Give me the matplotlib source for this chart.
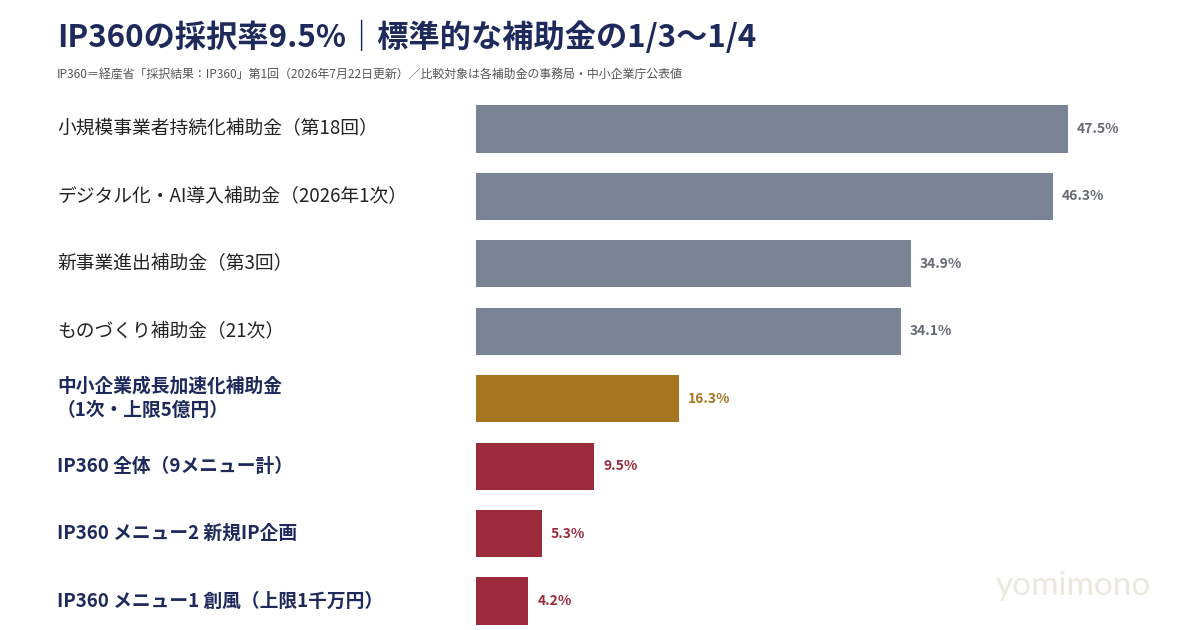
import matplotlib
matplotlib.use("Agg")
import matplotlib.pyplot as plt
import matplotlib.transforms as mtransforms

plt.rcParams['font.family'] = ['Noto Sans CJK JP', 'DejaVu Sans']

categories = [
    "小規模事業者持続化補助金（第18回）",
    "デジタル化・AI導入補助金（2026年1次）",
    "新事業進出補助金（第3回）",
    "ものづくり補助金（21次）",
    "中小企業成長加速化補助金\n（1次・上限5億円）",
    "IP360 全体（9メニュー計）",
    "IP360 メニュー2 新規IP企画",
    "IP360 メニュー1 創風（上限1千万円）",
]
values = [47.5, 46.3, 34.9, 34.1, 16.3, 9.5, 5.3, 4.2]
groups = ["other", "other", "other", "other", "gold", "ip", "ip", "ip"]
value_labels = ["47.5%", "46.3%", "34.9%", "34.1%", "16.3%", "9.5%", "5.3%", "4.2%"]

title = "IP360の採択率9.5%｜標準的な補助金の1/3〜1/4"
subtitle = "IP360＝経産省「採択結果：IP360」第1回（2026年7月22日更新）／比較対象は各補助金の事務局・中小企業庁公表値"

bar_colors = {"other": "#7b8497", "gold": "#a7741f", "ip": "#9b2a3b"}
val_colors = {"other": "#666a72", "gold": "#a7741f", "ip": "#9b2a3b"}
navy = "#1f2a5c"

fig = plt.figure(figsize=(12, 6.3), dpi=100)
fig.patch.set_facecolor("white")
ax = fig.add_axes([476/1200, 0, 623/1200, (630-95.3)/630])

ys = list(range(len(values)))
ax.barh(ys, values, height=0.70, color=[bar_colors[g] for g in groups])
ax.set_xlim(0, 50)
ax.set_ylim(7.43, -0.5)
ax.axis("off")

for y, v, g, lab in zip(ys, values, groups, value_labels):
    ax.annotate(lab, (v, y), xytext=(6.5, 0), textcoords="offset points",
                va="center", ha="left", fontsize=10, fontweight="bold",
                color=val_colors[g])

trans = mtransforms.blended_transform_factory(fig.transFigure, ax.transData)
for y, c, g in zip(ys, categories, groups):
    hl = g != "other"
    ax.text(57/1200, y, c, transform=trans, ha="left", va="center",
            fontsize=13.5, fontweight="bold" if hl else "normal",
            color=navy if hl else "#222222", linespacing=1.35)

fig.text(57/1200, 1 - 37/630, title, ha="left", va="center",
         fontsize=22.5, fontweight="bold", color=navy)
fig.text(57/1200, 1 - 74/630, subtitle, ha="left", va="center",
         fontsize=8.6, color="#555555")

fig.text(1073/1200, 1 - 586/630, "yomimono", ha="center", va="center",
         fontsize=24, color="#ebe8e0", family=["Lato", "DejaVu Sans"])

fig.savefig("out.png", dpi=100, facecolor="white")
